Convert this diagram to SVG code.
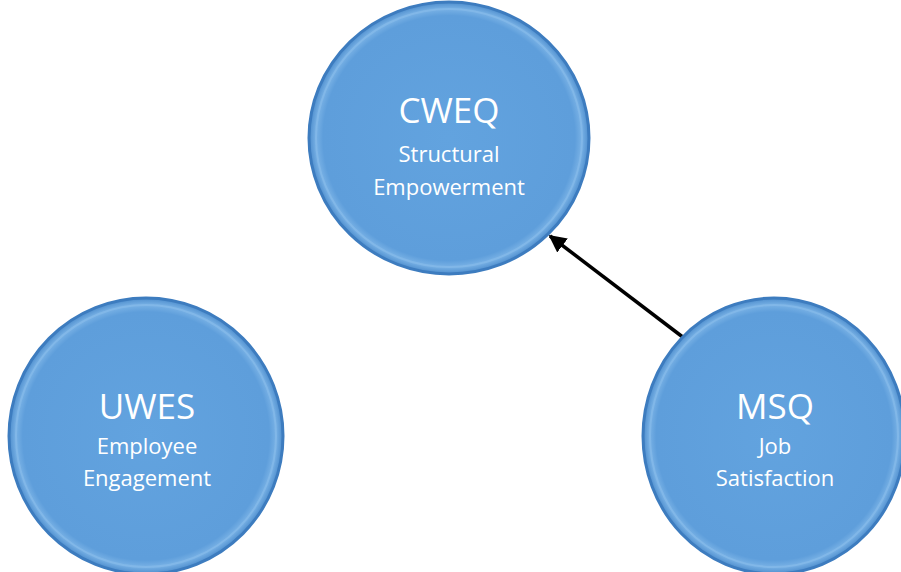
<svg xmlns="http://www.w3.org/2000/svg" width="901" height="572" viewBox="0 0 901 572">
  <style>
    .disc { fill: url(#discFill); stroke: #3d7cbf; stroke-width: 3; }
    .rim { fill: none; stroke: #86bbea; stroke-width: 2; opacity: 0.7; }
    .title { font-family: "Open Sans", "Noto Sans", sans-serif; font-size: 35px; fill: #ffffff; text-anchor: middle; }
    .sub { font-family: "Open Sans", "Noto Sans", sans-serif; font-size: 22px; fill: #ffffff; text-anchor: middle; }
    .link { stroke: #000000; stroke-width: 3.5; fill: none; marker-end: url(#head); }
  </style>
  <defs>
    <radialGradient id="discFill" cx="0.5" cy="0.5" r="0.5">
      <stop offset="0" stop-color="#62a3df"/>
      <stop offset="0.9" stop-color="#5e9edb"/>
      <stop offset="0.95" stop-color="#78b1e5"/>
      <stop offset="1" stop-color="#4d8dcd"/>
    </radialGradient>
    <marker id="head" viewBox="0 0 10 10" refX="9" refY="5" markerWidth="5" markerHeight="5" orient="auto" markerUnits="strokeWidth">
      <path d="M0,0 L10,5 L0,10 z" fill="#000000"/>
    </marker>
  </defs>

  <rect width="901" height="572" fill="#ffffff"/>

  <g id="connectors">
    <line class="link" x1="684" y1="338" x2="550" y2="236"/>
  </g>

  <g id="cweq">
    <ellipse class="disc" cx="449" cy="138" rx="140" ry="136"/>
    <ellipse class="rim" cx="449" cy="138" rx="133" ry="129"/>
    <text class="title" x="449" y="123">CWEQ</text>
    <text class="sub" x="449" y="162">Structural</text>
    <text class="sub" x="449" y="195">Empowerment</text>
  </g>

  <g id="uwes">
    <ellipse class="disc" cx="146" cy="436" rx="137" ry="138"/>
    <ellipse class="rim" cx="146" cy="436" rx="130" ry="131"/>
    <text class="title" x="147" y="419">UWES</text>
    <text class="sub" x="147" y="454">Employee</text>
    <text class="sub" x="147" y="486">Engagement</text>
  </g>

  <g id="msq">
    <ellipse class="disc" cx="774" cy="436" rx="131" ry="138"/>
    <ellipse class="rim" cx="774" cy="436" rx="124" ry="131"/>
    <text class="title" x="775" y="419">MSQ</text>
    <text class="sub" x="775" y="454">Job</text>
    <text class="sub" x="775" y="486">Satisfaction</text>
  </g>
</svg>
